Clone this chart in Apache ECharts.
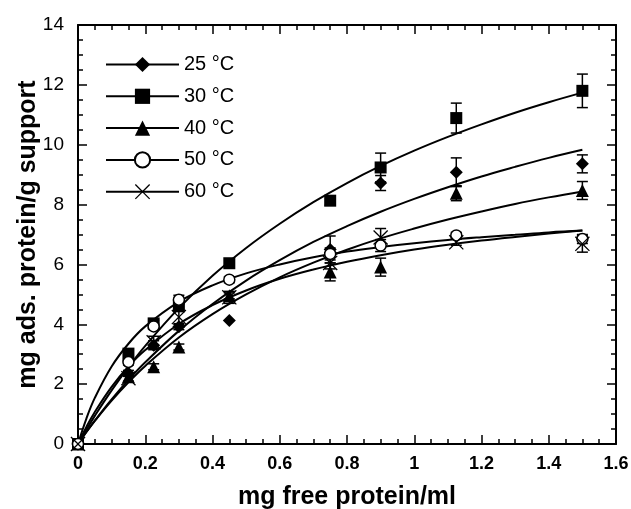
<!DOCTYPE html>
<html><head><meta charset="utf-8">
<script src="https://cdn.jsdelivr.net/npm/echarts@6/dist/echarts.min.js"></script>
<style>html,body{margin:0;padding:0;background:#fff}#c{width:631px;height:509px}</style>
</head><body><div id="c"></div>
<script>
// ---- data ----
const seriesNames = ['25 °C', '30 °C', '40 °C', '50 °C', '60 °C'];
const xPts = [0, 0.15, 0.225, 0.3, 0.45, 0.75, 0.9, 1.125, 1.5];
const y25 = [0, 2.36, 3.3, 3.92, 4.13, 6.5, 8.72, 9.08, 9.36];
const y30 = [0, 3.02, 4.03, 4.6, 6.04, 8.13, 9.24, 10.89, 11.8];
const y40 = [0, 2.25, 2.58, 3.24, 4.95, 5.75, 5.91, 8.38, 8.47];
const y50 = [0, 2.74, 3.93, 4.82, 5.49, 6.35, 6.63, 6.97, 6.85];
const y60 = [0, 2.2, 3.4, 4.24, 4.9, 6.05, 6.9, 6.74, 6.69];
const e25 = [0, 0.1, 0.15, 0.1, 0, 0.45, 0.25, 0.48, 0.3];
const e30 = [0, 0, 0.1, 0.15, 0, 0.15, 0.48, 0.5, 0.56];
const e40 = [0, 0, 0.1, 0.1, 0.1, 0.3, 0.3, 0.25, 0.3];
const e50 = [0, 0.1, 0.1, 0.15, 0.1, 0.2, 0.2, 0.1, 0.15];
const e60 = [0, 0.1, 0.2, 0.25, 0.2, 0.2, 0.3, 0.1, 0.28];
// fitted curves
const xFit = [0, 0.025, 0.05, 0.1, 0.15, 0.2, 0.3, 0.4, 0.5, 0.6, 0.7, 0.8, 0.9, 1.0, 1.1, 1.2, 1.3, 1.4, 1.5];
const f25 = [0, 0.40, 0.78, 1.49, 2.14, 2.73, 3.78, 4.68, 5.46, 6.14, 6.75, 7.28, 7.76, 8.19, 8.58, 8.94, 9.26, 9.56, 9.83];
const f30 = [0, 0.48, 0.94, 1.79, 2.57, 3.28, 4.54, 5.62, 6.55, 7.36, 8.08, 8.72, 9.29, 9.80, 10.26, 10.68, 11.07, 11.42, 11.74];
const f40 = [0, 0.40, 0.77, 1.45, 2.06, 2.61, 3.56, 4.34, 5.00, 5.57, 6.06, 6.49, 6.87, 7.20, 7.50, 7.77, 8.02, 8.24, 8.44];
const f50 = [0, 0.85, 1.54, 2.59, 3.35, 3.93, 4.75, 5.30, 5.70, 6.00, 6.24, 6.43, 6.58, 6.71, 6.82, 6.91, 6.99, 7.07, 7.13];
const f60 = [0, 0.57, 1.07, 1.91, 2.59, 3.14, 4.01, 4.64, 5.13, 5.52, 5.83, 6.09, 6.31, 6.50, 6.66, 6.80, 6.92, 7.03, 7.13];
const xTicks = [0, 0.2, 0.4, 0.6, 0.8, 1, 1.2, 1.4, 1.6];
const yTicks = [0, 2, 4, 6, 8, 10, 12, 14];

const XPATH = 'path://M0,1.2L1.2,0L10,8.8L18.8,0L20,1.2L11.2,10L20,18.8L18.8,20L10,11.2L1.2,20L0,18.8L8.8,10Z';
const sym = ['diamond', 'rect', 'triangle', 'circle', XPATH];
const symSize = [13, 12, 13, 11, 15];
const ys = [y25, y30, y40, y50, y60];
const es = [e25, e30, e40, e50, e60];
const fs = [f25, f30, f40, f50, f60];

const FONT = 'Liberation Sans, Arial, sans-serif';
const series = [];
seriesNames.forEach((n, i) => {
  series.push({
    name: n, type: 'line', smooth: 0.4, showSymbol: false,
    symbol: sym[i], symbolSize: symSize[i],
    data: xFit.map((x, k) => [x, fs[i][k]]),
    lineStyle: { color: '#000', width: 2 },
    itemStyle: i === 3 ? { color: '#fff', borderColor: '#000', borderWidth: 1.5 } : { color: '#000' },
    silent: true, z: 2
  });
  series.push({
    type: 'custom',
    data: xPts.map((x, k) => [x, ys[i][k] - es[i][k], ys[i][k] + es[i][k]]),
    renderItem: (params, api) => {
      const lo = api.value(1), hi = api.value(2);
      if (hi - lo <= 0) return null;
      const p1 = api.coord([api.value(0), lo]);
      const p2 = api.coord([api.value(0), hi]);
      const w = 5.5;
      const st = { stroke: '#000', lineWidth: 1.5 };
      return { type: 'group', children: [
        { type: 'line', shape: { x1: p1[0], y1: p1[1], x2: p2[0], y2: p2[1] }, style: st },
        { type: 'line', shape: { x1: p1[0] - w, y1: p1[1], x2: p1[0] + w, y2: p1[1] }, style: st },
        { type: 'line', shape: { x1: p2[0] - w, y1: p2[1], x2: p2[0] + w, y2: p2[1] }, style: st }
      ]};
    },
    clip: false, silent: true, z: 3
  });
  series.push({
    type: 'scatter', symbol: sym[i], symbolSize: symSize[i],
    data: xPts.map((x, k) => [x, ys[i][k]]),
    itemStyle: i === 3 ? { color: '#fff', borderColor: '#000', borderWidth: 1.5, opacity: 1 } : { color: '#000', opacity: 1 },
    clip: false, silent: true, z: 4
  });
});

const axisCommon = {
  axisLine: { show: true, onZero: false, lineStyle: { color: '#000', width: 2 } },
  axisTick: { show: true, inside: true, length: 9, lineStyle: { color: '#000', width: 1.5 } },
  minorTick: { show: true, splitNumber: 4, length: 5, lineStyle: { color: '#000', width: 1.5 } },
  splitLine: { show: false }
};

const chart = echarts.init(document.getElementById('c'), null, { renderer: 'canvas' });
chart.setOption({
  animation: false,
  backgroundColor: '#fff',
  grid: { left: 78, right: 15, top: 25, bottom: 65, containLabel: false, outerBoundsMode: 'none' },
  legend: {
    data: seriesNames, orient: 'vertical', left: 100, top: 49.5,
    itemWidth: 73, itemHeight: 19, itemGap: 11.8,
    textStyle: { fontFamily: FONT, fontSize: 20, color: '#000' },
    selectedMode: false
  },
  xAxis: [
    Object.assign({ type: 'value', min: 0, max: 1.6, interval: 0.2, position: 'bottom',
      name: 'mg free protein/ml', nameLocation: 'middle', nameGap: 41, nameMoveOverlap: false,
      nameTextStyle: { fontFamily: FONT, fontSize: 25, fontWeight: 'bold', color: '#000' },
      axisLabel: { margin: 11, fontFamily: FONT, fontSize: 18, fontWeight: 'bold', color: '#000',
        formatter: v => { const t = xTicks.find(q => Math.abs(q - v) < 1e-9); return t === undefined ? '' : String(t); } }
    }, axisCommon),
    Object.assign({ type: 'value', min: 0, max: 1.6, interval: 0.2, position: 'top', axisLabel: { show: false } }, axisCommon)
  ],
  yAxis: [
    Object.assign({ type: 'value', min: 0, max: 14, interval: 2, position: 'left',
      name: 'mg ads. protein/g support', nameLocation: 'middle', nameGap: 37, nameRotate: 90, nameMoveOverlap: false,
      nameTextStyle: { fontFamily: FONT, fontSize: 25, fontWeight: 'bold', color: '#000' },
      axisLabel: { margin: 14, fontFamily: FONT, fontSize: 19, color: '#000',
        formatter: v => { const t = yTicks.find(q => Math.abs(q - v) < 1e-9); return t === undefined ? '' : String(t); } }
    }, axisCommon),
    Object.assign({ type: 'value', min: 0, max: 14, interval: 2, position: 'right', axisLabel: { show: false } }, axisCommon)
  ],
  series: series
});
</script></body></html>
